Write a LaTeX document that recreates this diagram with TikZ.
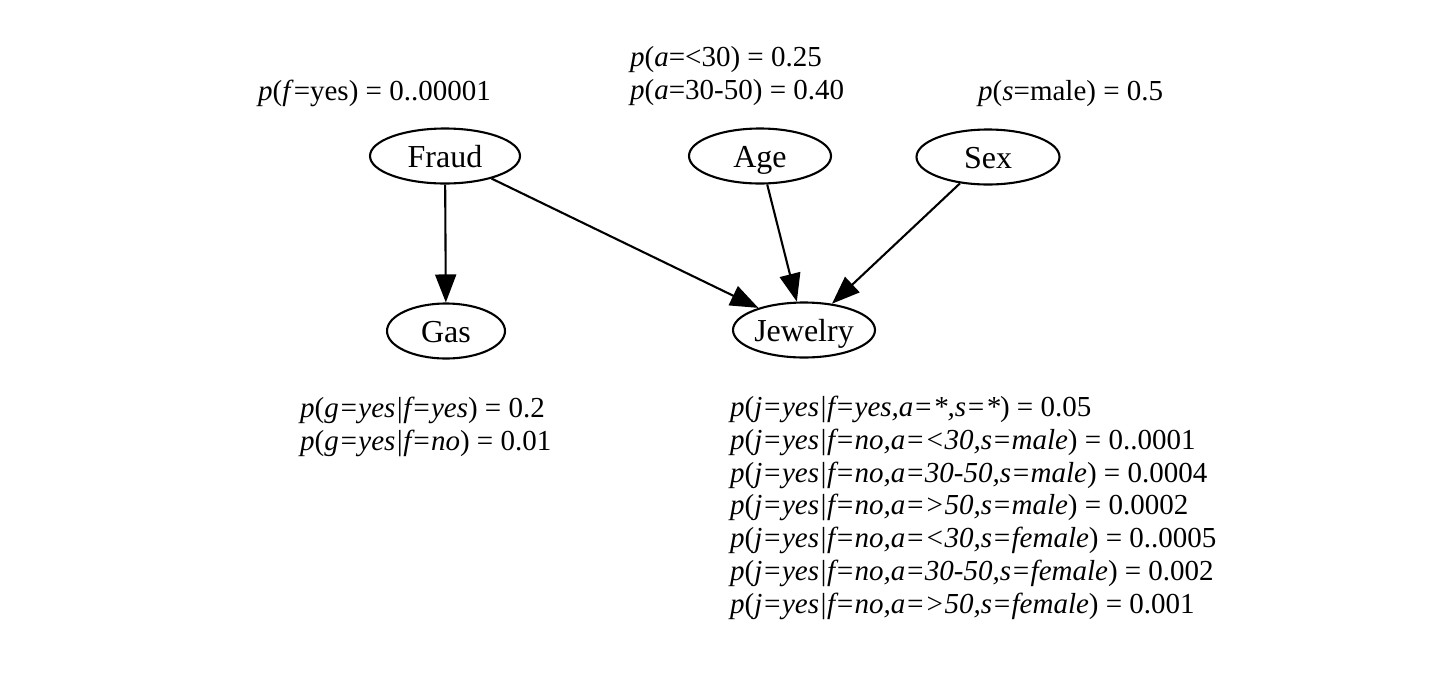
\documentclass[tikz,border=0pt]{standalone}
\usepackage{fontspec}
\setmainfont{Liberation Serif}
\usetikzlibrary{shapes.geometric,arrows.meta}

\tikzset{
  var/.style={ellipse,draw,line width=2.1pt,inner sep=0pt,minimum height=55pt,
    text height=22pt,text depth=0pt,font=\fontsize{32}{36}\selectfont},
  cpt/.style={anchor=base west,inner sep=0pt,align=left,
    font=\fontsize{29}{32.7}\selectfont},
  dep/.style={line width=2.1pt,-{Triangle[length=28pt,width=21pt]}}
}

\begin{document}
\begin{tikzpicture}[x=1pt,y=-1pt]
  \useasboundingbox (0,0) rectangle (1447,681);
  % variables
  \node[var,minimum width=150pt] (fraud) at (445,156) {Fraud};
  \node[var,minimum width=142pt] (age) at (760,156) {Age};
  \node[var,minimum width=143pt] (sex) at (988,157) {Sex};
  \node[var,minimum width=118pt] (gas) at (446,331) {Gas};
  \node[var,minimum width=142pt] (jewelry) at (804,330) {Jewelry};
  % probability tables (base = last line)
  \node[cpt] (fraudtab) at (258,100) {\textit{p}(\textit{f}=yes) = 0..00001};
  \node[cpt] (agetab) at (630,99) {\textit{p}(\textit{a}=<30) = 0.25\\
    \textit{p}(\textit{a}=30-50) = 0.40};
  \node[cpt] (sextab) at (978,100) {\textit{p}(\textit{s}=male) = 0.5};
  \node[cpt] (gastab) at (300,450) {\textit{p}(\textit{g=yes|f=yes}) = 0.2\\
    \textit{p}(\textit{g=yes|f=no}) = 0.01};
  \node[cpt] (jewelrytab) at (730,613) {\textit{p}(\textit{j=yes|f=yes,a=*,s=*}) = 0.05\\
    \textit{p}(\textit{j=yes|f=no,a=<30,s=male}) = 0..0001\\
    \textit{p}(\textit{j=yes|f=no,a=30-50,s=male}) = 0.0004\\
    \textit{p}(\textit{j=yes|f=no,a=>50,s=male}) = 0.0002\\
    \textit{p}(\textit{j=yes|f=no,a=<30,s=female}) = 0..0005\\
    \textit{p}(\textit{j=yes|f=no,a=30-50,s=female}) = 0.002\\
    \textit{p}(\textit{j=yes|f=no,a=>50,s=female}) = 0.001};
  % dependencies
  \draw[dep] (fraud) -- (gas);
  \draw[dep] (fraud) -- (jewelry);
  \draw[dep] (age) -- (jewelry);
  \draw[dep] (sex) -- (jewelry);
\end{tikzpicture}
\end{document}
